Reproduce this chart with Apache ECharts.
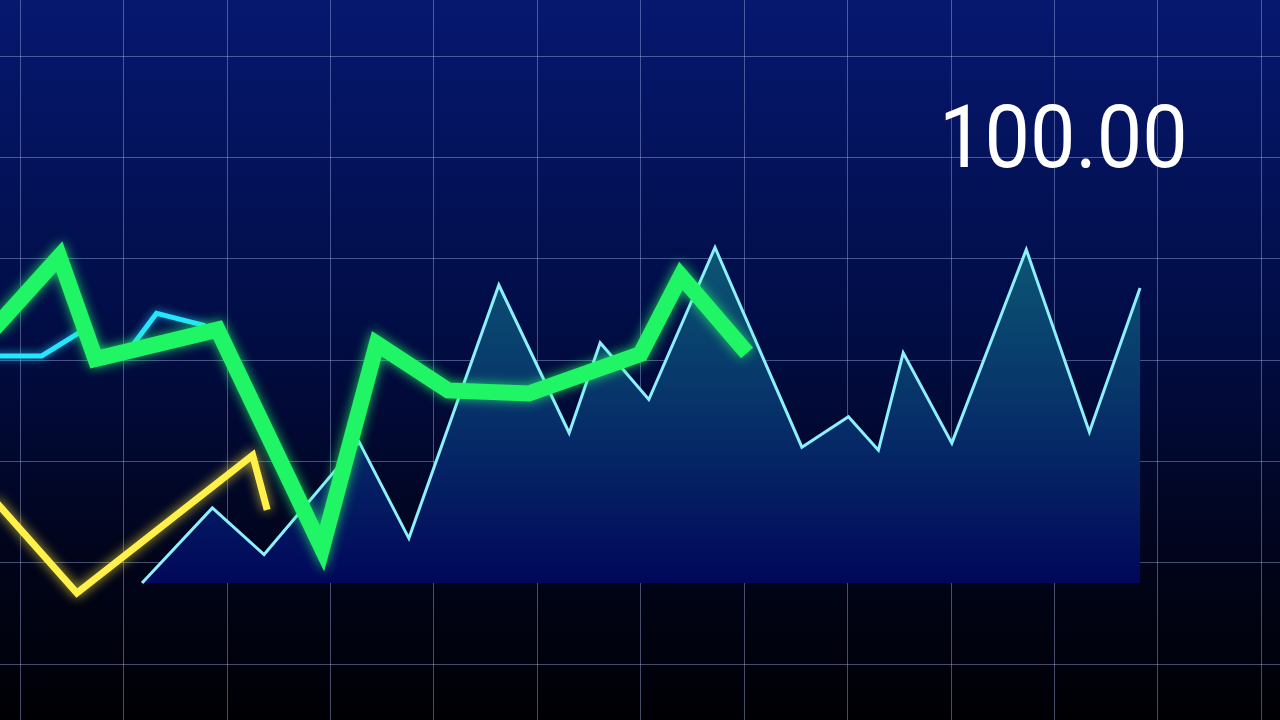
<!DOCTYPE html>
<html>
<head>
<meta charset="utf-8">
<script src="https://cdn.jsdelivr.net/npm/echarts@6/dist/echarts.min.js"></script>
<style>
html,body{margin:0;padding:0;width:1280px;height:720px;overflow:hidden;background:#000;}
#chart{width:1280px;height:720px;}
</style>
</head>
<body>
<div id="chart"></div>
<script>
// Data (x in grid-column units, y in grid-row units)
const areaX = [1.18, 1.86, 2.36, 3.28, 3.76, 4.63, 5.31, 5.61, 6.08, 6.72, 7.56, 8.01, 8.30, 8.54, 9.01, 9.73, 10.34, 10.83];
const areaY = [0.80, 1.54, 1.08, 2.19, 1.24, 3.74, 2.28, 3.17, 2.61, 4.11, 2.14, 2.44, 2.11, 3.07, 2.18, 4.09, 2.29, 3.71];
const areaBase = 0.80;

const greenX = [-0.25, 0.38, 0.73, 1.91, 2.92, 3.45, 4.14, 4.92, 6.00, 6.39, 7.03];
const greenY = [3.31, 4.02, 3.01, 3.30, 1.14, 3.16, 2.70, 2.67, 3.06, 3.83, 3.07];

const yellowX = [-0.25, 0.55, 2.25, 2.39];
const yellowY = [1.62, 0.70, 2.06, 1.52];

const cyanX = [-0.25, 0.21, 0.62, 0.73, 1.04, 1.32, 1.79];
const cyanY = [3.04, 3.04, 3.30, 3.04, 3.08, 3.46, 3.34];

const xTicks = {min: -1, max: 13, interval: 1};
const yTicks = {min: -1, max: 7, interval: 1};
const valueText = "100.00";

const zip = (xs, ys) => xs.map((x, i) => [x, ys[i]]);

const chart = echarts.init(document.getElementById('chart'), null, {renderer: 'canvas'});
const gridLine = {show: true, lineStyle: {color: 'rgba(185,200,255,0.38)', width: 1}};

// one column = 103.42px, one row = 101.33px; grid extended past the canvas edges
chart.setOption({
  backgroundColor: new echarts.graphic.LinearGradient(0, 0, 0, 1, [
    {offset: 0, color: '#06186f'},
    {offset: 0.45, color: '#010d46'},
    {offset: 0.78, color: '#01041a'},
    {offset: 1, color: '#000004'}
  ]),
  animation: false,
  grid: {left: -83.42, top: -45.33, width: 1447.9, height: 810.67,
         outerBoundsMode: 'none', containLabel: false},
  xAxis: {
    type: 'value', min: xTicks.min, max: xTicks.max, interval: xTicks.interval,
    axisLine: {show: false}, axisTick: {show: false}, axisLabel: {show: false},
    splitLine: gridLine
  },
  yAxis: {
    type: 'value', min: yTicks.min, max: yTicks.max, interval: yTicks.interval,
    axisLine: {show: false}, axisTick: {show: false}, axisLabel: {show: false},
    splitLine: gridLine
  },
  graphic: [{
    type: 'text',
    x: 939, y: 145,
    scaleX: 0.93,
    z: 100,
    style: {
      text: valueText,
      fill: '#ffffff',
      font: 'normal 87px "Roboto"',
      textVerticalAlign: 'middle',
      textAlign: 'left'
    }
  }],
  series: [
    {
      type: 'line', data: zip(areaX, areaY), symbol: 'none', z: 2,
      lineStyle: {color: '#8cf0ff', width: 3, join: 'miter'},
      areaStyle: {
        origin: areaBase,
        opacity: 1,
        color: new echarts.graphic.LinearGradient(0, 0, 0, 1, [
          {offset: 0, color: '#0c5674'},
          {offset: 0.45, color: '#07346a'},
          {offset: 1, color: '#01075a'}
        ])
      }
    },
    {
      type: 'line', data: zip(yellowX, yellowY), symbol: 'none', z: 3,
      lineStyle: {color: '#fff04a', width: 7, join: 'miter', miterLimit: 10,
        shadowBlur: 12, shadowColor: 'rgba(255,235,60,0.8)'}
    },
    {
      type: 'line', data: zip(cyanX, cyanY), symbol: 'none', z: 3,
      lineStyle: {color: '#24e6ff', width: 5, join: 'miter', miterLimit: 10,
        shadowBlur: 8, shadowColor: 'rgba(40,220,255,0.7)'}
    },
    {
      type: 'line', data: zip(greenX, greenY), symbol: 'none', z: 4,
      lineStyle: {color: '#1ff565', width: 16, join: 'miter', miterLimit: 10,
        shadowBlur: 12, shadowColor: 'rgba(40,255,110,0.75)'}
    }
  ]
});
</script>
</body>
</html>
